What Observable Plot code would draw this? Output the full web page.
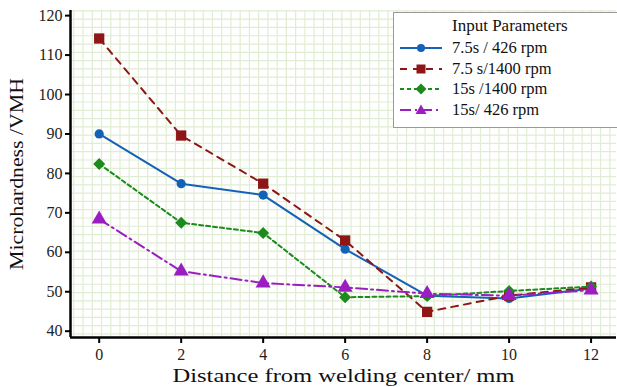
<!DOCTYPE html>
<html><head><meta charset="utf-8">
<script src="https://cdn.jsdelivr.net/npm/d3@7"></script>
<script src="https://cdn.jsdelivr.net/npm/@observablehq/plot@0.6"></script>
<style>
body{margin:0;background:#fff;}
#wrap{position:relative;width:617px;height:387px;overflow:hidden;font-family:"Liberation Serif",serif;}
#wrap svg text{font-family:"Liberation Serif",serif !important;font-variant:normal !important;}
#legend{position:absolute;left:393px;top:12px;width:240px;height:116px;border:1px solid #9a9a9a;background:#fff;box-sizing:border-box;}
#legend .t{position:absolute;left:58px;top:3px;font-size:17px;color:#111;}
#legend .row{position:absolute;left:6px;height:20px;display:flex;align-items:center;font-size:16.5px;color:#111;}
#legend svg{margin-right:10px;}
</style></head>
<body><div id="wrap"></div>
<script>
const distances = [0, 2, 4, 6, 8, 10, 12];
const seriesNames = ["7.5s / 426 rpm", "7.5 s/1400 rpm", "15s /1400 rpm", "15s/ 426 rpm"];
const s1 = [90, 77.4, 74.5, 60.8, 49, 48.3, 50.8];
const s2 = [114.2, 89.6, 77.4, 63, 44.9, 49, 51.1];
const s3 = [82.4, 67.5, 64.9, 48.6, 48.9, 50.2, 51.3];
const s4 = [68.4, 55.2, 52.2, 51.1, 49.5, 49, 50.4];
const yTicks = [40, 50, 60, 70, 80, 90, 100, 110, 120];
const xTicks = [0, 2, 4, 6, 8, 10, 12];
const xDomain = [-0.7, 12.62];
const yDomain = [38.4, 121.3];
const xTitle = "Distance from welding center/ mm";
const yTitle = "Microhardness /VMH";

const colors = ["#1461b8", "#8e1616", "#1c8a1c", "#9b1fc0"];
const dashes = ["none", "7,6", "4,3", "11,4,2,4"];
const symbols = ["circle", "square", "diamond2", "triangle"];
const radii = [4.6, 5.8, 5.4, 5.6];
const values = [s1, s2, s3, s4];
const FONT = "Liberation Serif";

const rows = [];
values.forEach((vals, i) => vals.forEach((v, j) => rows.push({series: seriesNames[i], x: distances[j], y: v, i})));

const marks = [
  Plot.gridX(d3.range(-0.62, 12.7, 0.2255), {stroke: "#e0edd2", strokeOpacity: 1, strokeWidth: 1.2}),
  Plot.gridY(d3.range(39.3, 122, 2.1), {stroke: "#e0edd2", strokeOpacity: 1, strokeWidth: 1.2}),
];
values.forEach((vals, i) => {
  const data = rows.filter(r => r.i === i);
  marks.push(Plot.line(data, {x: "x", y: "y", stroke: colors[i], strokeWidth: 2, strokeDasharray: dashes[i] === "none" ? null : dashes[i]}));
});
values.forEach((vals, i) => {
  const data = rows.filter(r => r.i === i);
  marks.push(Plot.dot(data, {x: "x", y: "y", symbol: () => symbols[i], r: radii[i], fill: colors[i], stroke: "none"}));
});
marks.push(
  Plot.ruleX([xDomain[0]], {stroke: "#000", strokeWidth: 2.5}),
  Plot.ruleY([yDomain[0]], {stroke: "#000", strokeWidth: 2.5}),
  Plot.axisX({ticks: xTicks, tickSize: 6, tickPadding: 5, label: null, fontSize: 16, fontFamily: FONT, stroke: "#000", strokeWidth: 2, fill: "#222"}),
  Plot.axisY({ticks: yTicks, tickSize: 5, tickPadding: 3, label: null, fontSize: 16, fontFamily: FONT, stroke: "#000", strokeWidth: 2, fill: "#222"}),
  Plot.text([yTitle], {frameAnchor: "left", textAnchor: "middle", lineAnchor: "middle", rotate: -90, dx: -53, fontSize: 18, fontFamily: FONT, fill: "#111"}),
  Plot.text([xTitle], {frameAnchor: "bottom", textAnchor: "middle", lineAnchor: "middle", dy: 39, fontSize: 18, fontFamily: FONT, fill: "#111"})
);

const chart = Plot.plot({
  width: 617, height: 387,
  marginLeft: 70, marginRight: 1, marginTop: 10, marginBottom: 50,
  x: {domain: xDomain},
  y: {domain: yDomain},
  symbol: {type: "identity"},
  style: {fontFamily: FONT, background: "#fff", overflow: "visible"},
  marks
});
const wrap = document.getElementById("wrap");
wrap.appendChild(chart);
// stretch titles to match reference widths
d3.select(chart).selectAll("text").each(function() {
  const t = this.textContent;
  if (t === xTitle) d3.select(this).attr("textLength", 342).attr("lengthAdjust", "spacingAndGlyphs");
  if (t === yTitle) d3.select(this).attr("textLength", 192).attr("lengthAdjust", "spacingAndGlyphs");
});

// legend
const leg = document.createElement("div");
leg.id = "legend";
leg.innerHTML = '<div class="t">Input Parameters</div>';
const shapes = [
  c => `<circle cx="21" cy="10" r="4" fill="${c}"/>`,
  c => `<rect x="16.5" y="5.5" width="9" height="9" fill="${c}"/>`,
  c => `<path d="M21,4.5L26.5,10L21,15.5L15.5,10Z" fill="${c}"/>`,
  c => `<path d="M21,4.5L26.5,14L15.5,14Z" fill="${c}"/>`
];
seriesNames.forEach((name, i) => {
  const row = document.createElement("div");
  row.className = "row";
  row.style.top = (25 + i * 20.5) + "px";
  const da = dashes[i] === "none" ? "" : `stroke-dasharray="${dashes[i]}"`;
  row.innerHTML = `<svg width="42" height="20"><line x1="0" y1="10" x2="42" y2="10" stroke="${colors[i]}" stroke-width="2" ${da}/>${shapes[i](colors[i])}</svg><span>${name}</span>`;
  leg.appendChild(row);
});
wrap.appendChild(leg);
</script>
</body></html>
